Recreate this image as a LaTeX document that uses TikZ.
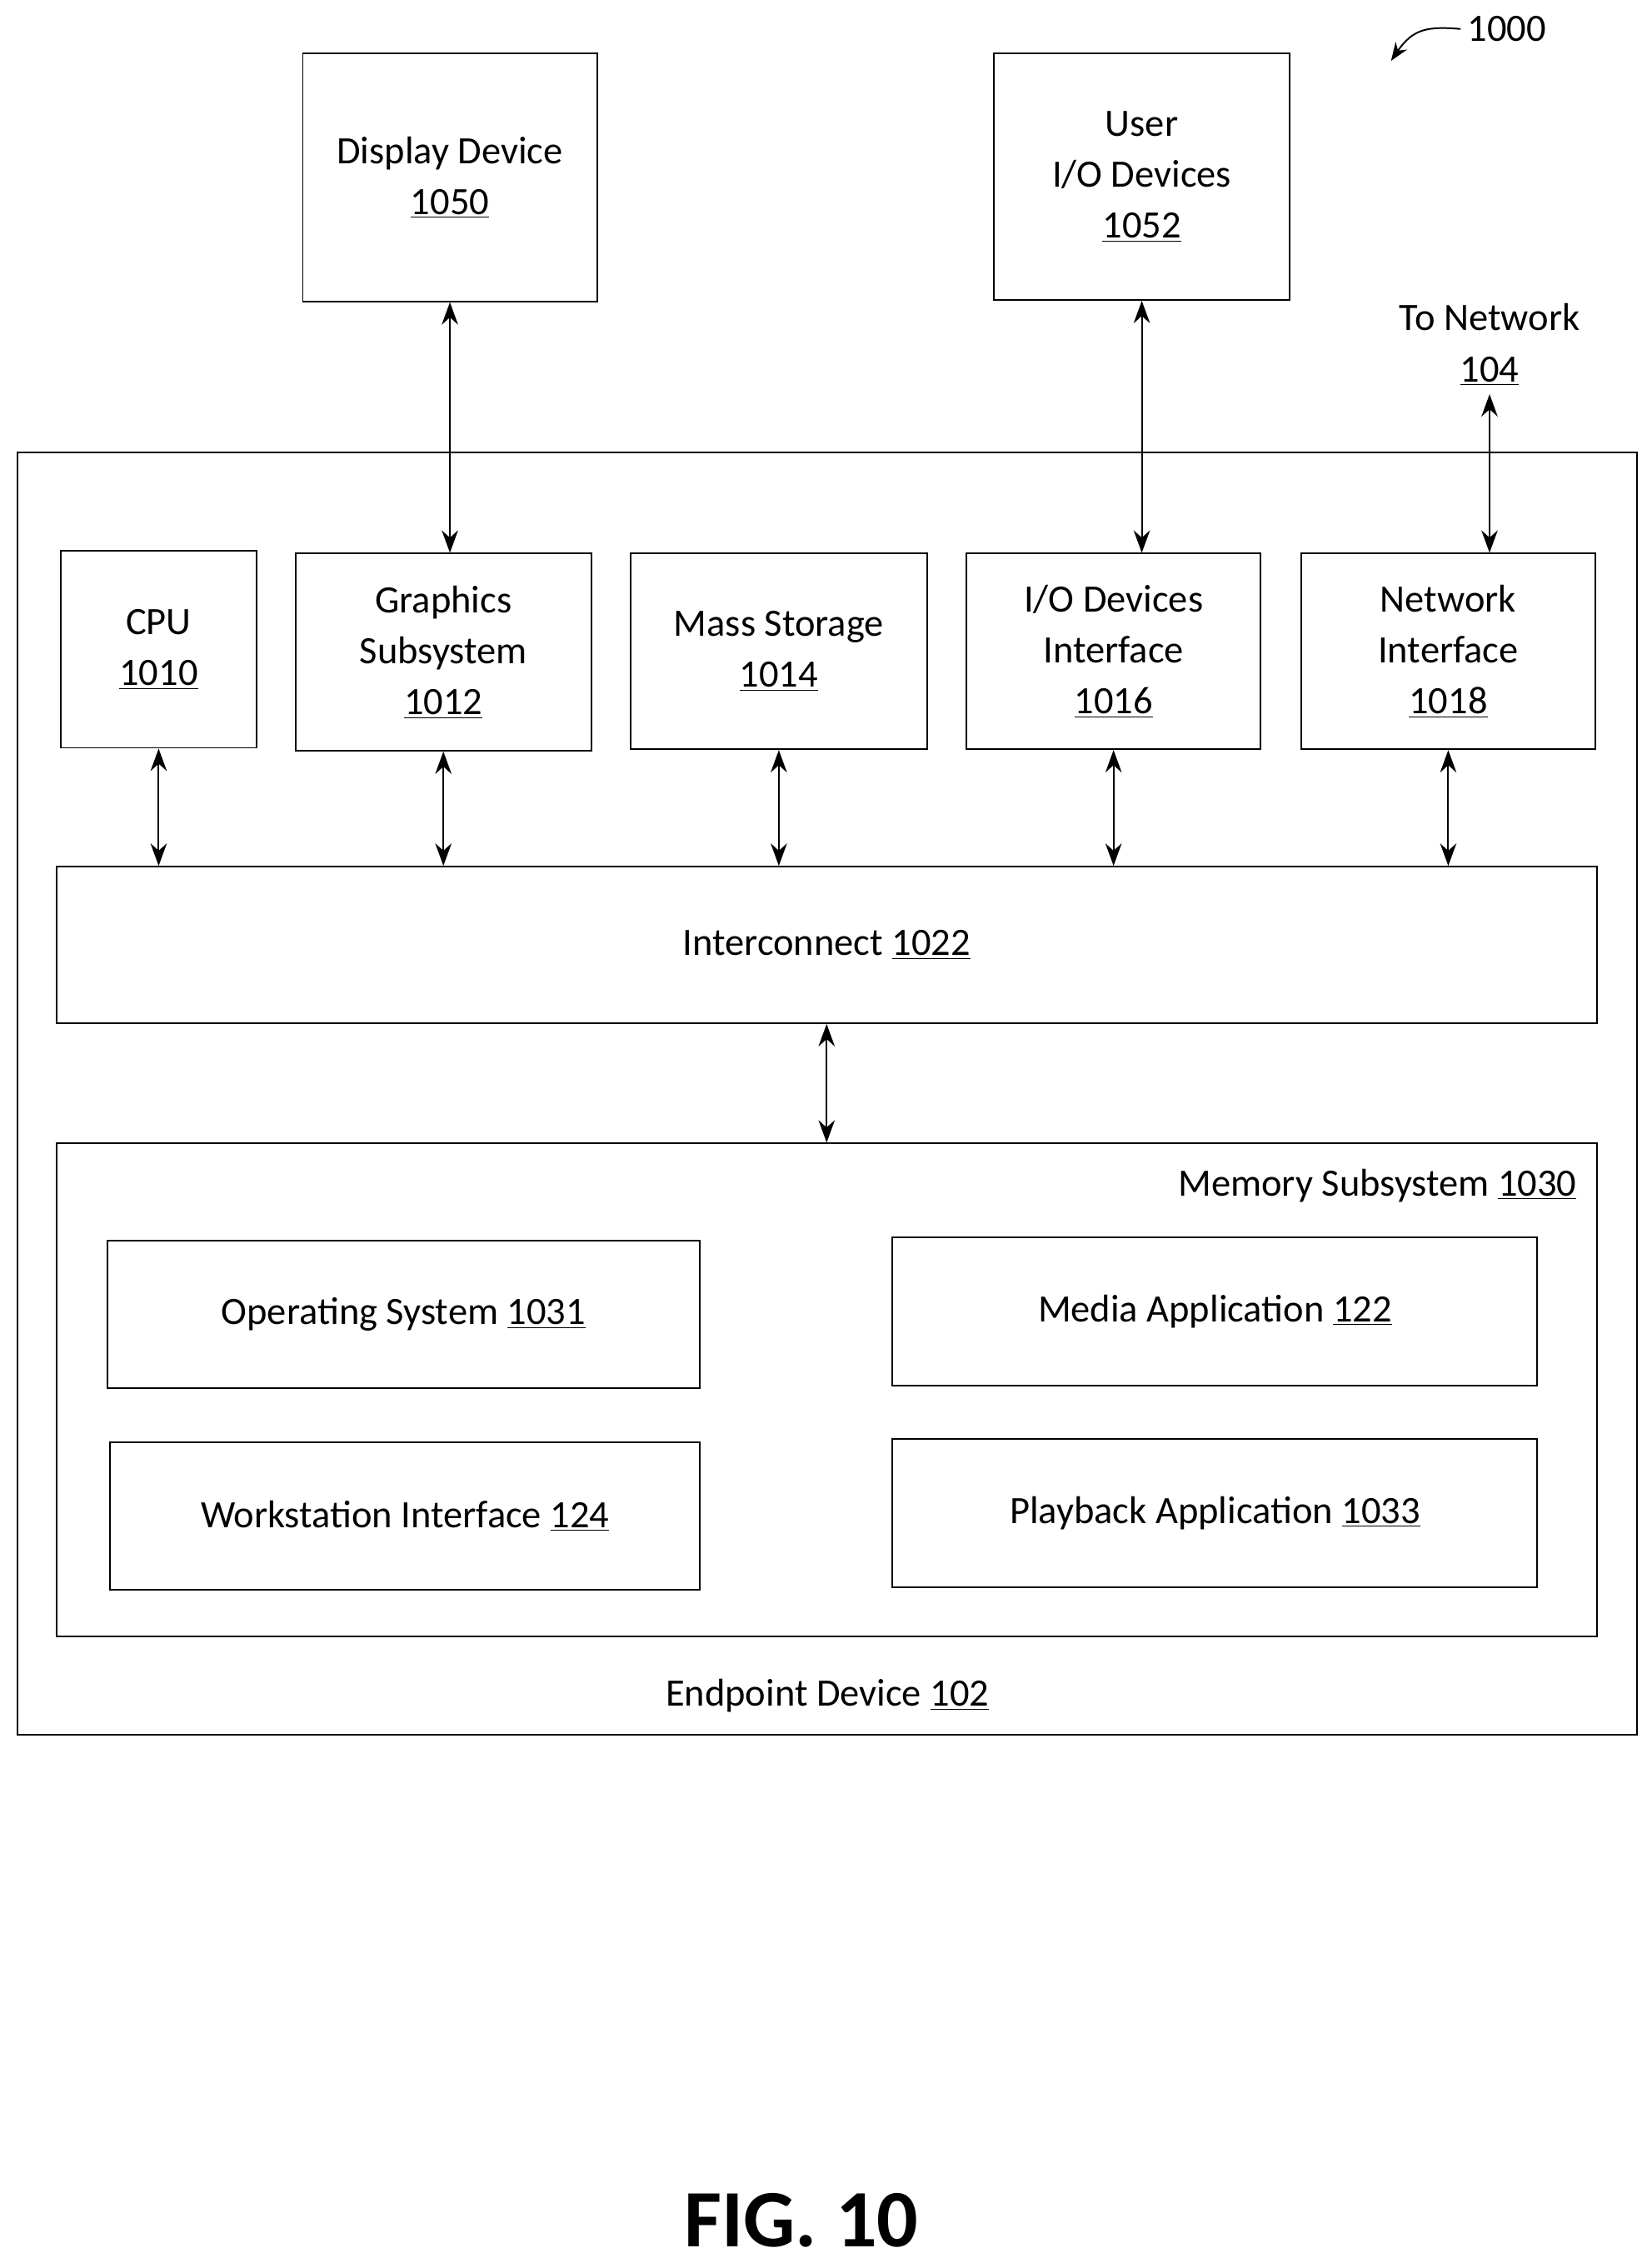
\documentclass[tikz,border=0pt]{standalone}
\usepackage{fontspec}
\setmainfont{Carlito}
\usetikzlibrary{arrows.meta}
\newcommand{\num}[1]{\underline{#1}}
\tikzset{
  box/.style={draw, thick, align=center, inner sep=0pt, font=\fontsize{19}{25}\selectfont},
  link/.style={thick, {Stealth[length=11pt,width=8pt]}-{Stealth[length=11pt,width=8pt]}},
  lbl/.style={font=\fontsize{19}{25}\selectfont, align=center}
}
% box from corners (x1,y1) to (x2,y2) in pixels
\newcommand{\blk}[6]{\node[box, minimum width={(#4-#2)*0.025cm}, minimum height={(#5-#3)*0.025cm}] (#1) at ({(#2+#4)/2},{(#3+#5)/2}) {#6};}
\begin{document}
\begin{tikzpicture}[x=0.025cm, y=-0.025cm]
  \useasboundingbox (0,0) rectangle (1140,1565);

  % Geraete ausserhalb
  \blk{disp}{209}{37}{412}{208}{Display Device\\\num{1050}}
  \blk{uio}{686}{37}{890}{207}{User\\I/O Devices\\\num{1052}}

  % Endgeraet
  \blk{ep}{12}{312}{1130}{1197}{}
  \node[lbl] (eplbl) at (571,1170) {Endpoint Device \num{102}};

  % Komponenten
  \blk{cpu}{42}{380}{177}{516}{CPU\\\num{1010}}
  \blk{gfx}{204}{382}{408}{518}{Graphics\\Subsystem\\\num{1012}}
  \blk{ms}{435}{382}{640}{517}{Mass Storage\\\num{1014}}
  \blk{iof}{667}{382}{870}{517}{I/O Devices\\Interface\\\num{1016}}
  \blk{ni}{898}{382}{1101}{517}{Network\\Interface\\\num{1018}}
  \blk{ic}{39}{598}{1102}{706}{Interconnect \num{1022}}

  % Speicher
  \blk{mem}{39}{789}{1102}{1129}{}
  \node[lbl, anchor=east] (memlbl) at (1093,818) {Memory Subsystem \num{1030}};
  \blk{os}{74}{856}{483}{958}{Operating System \num{1031}}
  \blk{media}{616}{854}{1061}{956}{Media Application \num{122}}
  \blk{ws}{76}{995}{483}{1097}{Workstation Interface \num{124}}
  \blk{pb}{616}{993}{1061}{1095}{Playback Application \num{1033}}

  % Verbindungen
  \foreach \n in {cpu,gfx,ms,iof,ni}{
    \draw[link] (\n.south) -- (\n.south |- ic.north);
  }
  \draw[link] (disp.south) -- (disp.south |- gfx.north);
  \draw[link] (uio.south) -- (uio.south |- iof.north);
  \draw[link] (ic.south) -- (mem.north);

  % Netzwerk
  \node[lbl] (net) at (1028,238) {To Network\\\num{104}};
  \coordinate (nettop) at (1028,272);
  \draw[link] (nettop) -- (nettop |- ni.north);

  % Bezugszeichen
  \node[lbl, anchor=west] (ref) at (1008,20) {1000};
  \draw[thick, -{Stealth[length=9pt]}] (ref.west) .. controls (985,18) and (975,20) .. (960,42);

  \node[font=\bfseries\fontsize{40}{46}\selectfont] (fig) at (553,1532) {FIG. 10};
\end{tikzpicture}
\end{document}
